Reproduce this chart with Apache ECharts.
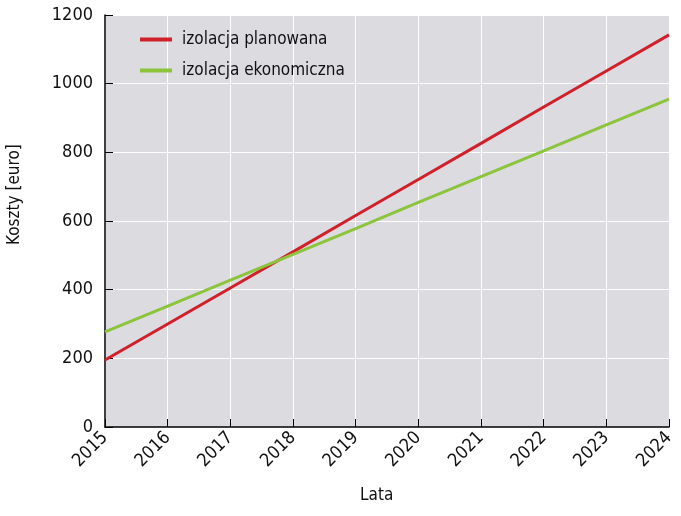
<!DOCTYPE html>
<html><head><meta charset="utf-8">
<script src="https://cdn.jsdelivr.net/npm/echarts@6/dist/echarts.min.js"></script>
<style>html,body{margin:0;padding:0;background:#fff}#c{width:681px;height:516px}</style>
</head><body><div id="c"></div>
<script>
const years = ['2015','2016','2017','2018','2019','2020','2021','2022','2023','2024'];
const planowana = [195, 300, 405, 510, 616, 721, 826, 932, 1037, 1142];
const ekonomiczna = [277, 352, 428, 503, 578, 654, 729, 804, 880, 955];
const seriesNames = ['izolacja planowana', 'izolacja ekonomiczna'];
const FONT = '"Liberation Sans Narrow", "DejaVu Sans Condensed", "Liberation Sans", sans-serif';
const chart = echarts.init(document.getElementById('c'));
chart.setOption({
  animation: false,
  backgroundColor: '#fff',
  grid: {left: 105, right: 12, top: 15, bottom: 89, show: true, backgroundColor: '#dcdbe0', borderWidth: 0},
  legend: {
    left: 140, top: 31, orient: 'vertical', itemGap: 14, padding: 0,
    itemWidth: 32, itemHeight: 4, icon: 'rect',
    textStyle: {fontFamily: FONT, fontSize: 17, color: '#111', padding: [0,0,0,5]},
    data: seriesNames
  },
  xAxis: {
    type: 'category', data: years, boundaryGap: false,
    axisLine: {lineStyle: {color: '#000', width: 1.5}},
    axisTick: {inside: true, length: 8, lineStyle: {color: '#000'}},
    axisLabel: {rotate: 45, fontFamily: FONT, fontSize: 18, color: '#111', margin: 8},
    splitLine: {show: true, lineStyle: {color: '#fff', width: 1}}
  },
  yAxis: {
    type: 'value', min: 0, max: 1200, interval: 200,
    axisLine: {show: true, lineStyle: {color: '#000', width: 1.5}},
    axisTick: {show: true, inside: true, length: 8, lineStyle: {color: '#000'}},
    axisLabel: {fontFamily: FONT, fontSize: 18, color: '#111', margin: 12, formatter: function (v) { return String(v); }},
    splitLine: {show: true, lineStyle: {color: '#fff', width: 1}}
  },
  graphic: [
    {type: 'text', x: 6, y: 245, rotation: Math.PI/2, style: {text: 'Koszty [euro]', font: '17px ' + FONT, fill: '#111'}},
    {type: 'text', left: 360, top: 487, style: {text: 'Lata', font: '17px ' + FONT, fill: '#111'}}
  ],
  series: [
    {name: seriesNames[0], type: 'line', data: planowana, symbol: 'none', lineStyle: {color: '#d0202a', width: 3}, itemStyle: {color: '#d0202a'}},
    {name: seriesNames[1], type: 'line', data: ekonomiczna, symbol: 'none', lineStyle: {color: '#8cc43c', width: 3}, itemStyle: {color: '#8cc43c'}}
  ]
});
</script></body></html>
